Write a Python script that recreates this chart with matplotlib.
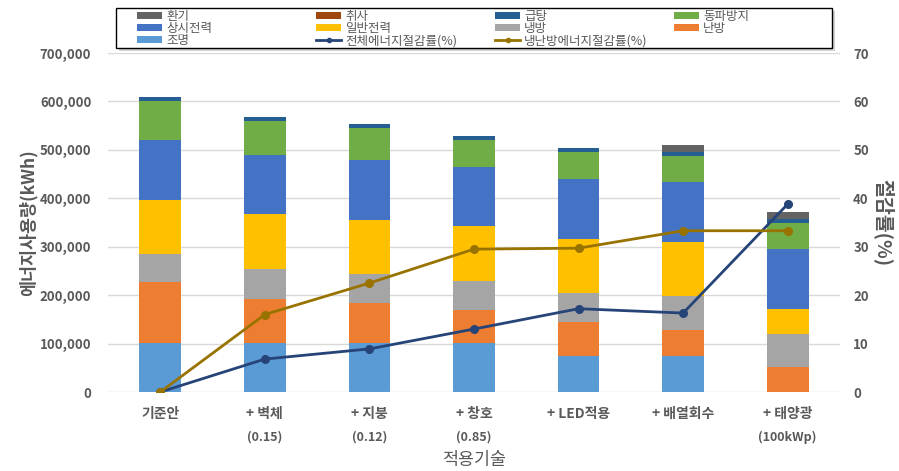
import matplotlib
matplotlib.use("Agg")
import matplotlib.pyplot as plt
from matplotlib.ticker import FuncFormatter, MultipleLocator
from matplotlib.patches import Rectangle
from matplotlib.lines import Line2D
import numpy as np

plt.rcParams['font.family'] = ['Noto Sans CJK KR', 'DejaVu Sans']

# 적용기술 (x축)
tech_main = ["기준안", "+ 벽체", "+ 지붕", "+ 창호", "+ LED적용", "+ 배열회수", "+ 태양광"]
tech_sub = ["", "(0.15)", "(0.12)", "(0.85)", "", "", "(100kWp)"]

# 용도별 에너지사용량 (kWh), 아래에서 위로 쌓는 순서
light = [101000, 101000, 101000, 101000, 74000, 74000, 0]          # 조명
heating = [125500, 91500, 83000, 68000, 71000, 54000, 51000]        # 난방
cooling = [59000, 61500, 59500, 60000, 59000, 70000, 68000]         # 냉방
general = [111500, 113500, 111500, 113500, 112000, 111500, 52000]   # 일반전력
standby = [123000, 122000, 124000, 122000, 123000, 124000, 123500]  # 상시전력
freeze = [81000, 70000, 67000, 56000, 56000, 54000, 54000]          # 동파방지
hotwater = [8000, 8000, 8000, 8000, 8000, 9000, 8000]               # 급탕
cooking = [0, 0, 0, 0, 0, 0, 0]                                     # 취사
vent = [0, 0, 0, 0, 0, 14000, 14500]                                # 환기

# 절감률 (%)
total_saving = [0, 6.8, 8.9, 13.0, 17.2, 16.3, 38.8]
hvac_saving = [0, 16.0, 22.5, 29.5, 29.7, 33.3, 33.3]

stack = [
    ("조명", light, "#5B9BD5"),
    ("난방", heating, "#ED7D31"),
    ("냉방", cooling, "#A5A5A5"),
    ("일반전력", general, "#FFC000"),
    ("상시전력", standby, "#4472C4"),
    ("동파방지", freeze, "#70AD47"),
    ("급탕", hotwater, "#255E91"),
    ("취사", cooking, "#9E480E"),
    ("환기", vent, "#636363"),
]
line_cols = {"전체에너지절감률(%)": "#264478", "냉난방에너지절감률(%)": "#997300"}

gray = "#595959"
W, H = 899, 471
fig = plt.figure(figsize=(W / 100, H / 100), dpi=100)
ax = fig.add_axes([108 / W, 79 / H, 732 / W, 339 / H])
x = np.arange(len(tech_main))

bottom = np.zeros(len(x))
colors = {}
for name, vals, col in stack:
    ax.bar(x, vals, 0.4, bottom=bottom, color=col, zorder=2)
    bottom += np.array(vals)
    colors[name] = col

ax.set_xlim(-0.5, len(x) - 0.5)
ax.set_ylim(0, 700000)
ax.yaxis.set_major_locator(MultipleLocator(100000))
ax.yaxis.set_major_formatter(FuncFormatter(lambda v, p: f"{int(v):,}"))
ax.grid(axis='y', color="#D9D9D9", lw=1, zorder=0)
ax.set_axisbelow(True)
for s in ax.spines.values():
    s.set_visible(False)
ax.tick_params(axis='both', length=0)
ax.tick_params(axis='y', pad=12, labelsize=9.5, labelcolor=gray)
for t in ax.get_yticklabels():
    t.set_fontweight('bold')

ax.set_xticks(x)
ax.set_xticklabels(tech_main, fontsize=10, color=gray, style='italic', fontweight='bold')
ax.tick_params(axis='x', pad=11)
for i, s in enumerate(tech_sub):
    ax.text(i, -0.133, s, transform=ax.get_xaxis_transform(), ha='center', va='center',
            fontsize=9, color=gray, style='italic', fontweight='bold')
ax.text(0.5, -0.201, "적용기술", transform=ax.transAxes, ha='center', va='center',
        fontsize=12.5, color=gray)
ax.set_ylabel("에너지사용량(kWh)", fontsize=12.5, fontweight='bold', color=gray, va='center')
ax.yaxis.set_label_coords(-0.109, 0.5)

ax2 = ax.twinx()
ax2.set_ylim(0, 70)
ax2.yaxis.set_major_locator(MultipleLocator(10))
for s in ax2.spines.values():
    s.set_visible(False)
ax2.tick_params(axis='y', length=0, pad=9.5, labelsize=9.5, labelcolor=gray)
for t in ax2.get_yticklabels():
    t.set_fontweight('bold')
ax2.set_ylabel("절감률(%)", fontsize=14, fontweight='bold', color=gray, rotation=-90, va='center')
ax2.yaxis.set_label_coords(1.059, 0.5)

ax2.plot(x, total_saving, color=line_cols["전체에너지절감률(%)"], lw=2, marker='o', ms=5.5, zorder=3)
ax2.plot(x, hvac_saving, color=line_cols["냉난방에너지절감률(%)"], lw=2, marker='o', ms=5.5, zorder=3)

# 범례 (엑셀처럼 4열 등간격 배치)
legend_rows = [
    ["환기", "취사", "급탕", "동파방지"],
    ["상시전력", "일반전력", "냉방", "난방"],
    ["조명", "전체에너지절감률(%)", "냉난방에너지절감률(%)"],
]
tf = fig.transFigure
fig.add_artist(Rectangle((119 / W, 1 - 51 / H), 716 / W, 40 / H, transform=tf,
                         facecolor="#BFBFBF", edgecolor='none', alpha=0.7))
fig.add_artist(Rectangle((116 / W, 1 - 48 / H), 716 / W, 40 / H, transform=tf,
                         facecolor='white', edgecolor='black', lw=1))
for r, row in enumerate(legend_rows):
    yc = 15 + 12.3 * r
    for c, name in enumerate(row):
        x0 = 137 + 179 * c
        if name in line_cols:
            fig.add_artist(Line2D([x0 / W, (x0 + 25) / W], [1 - yc / H] * 2, transform=tf,
                                  color=line_cols[name], lw=2))
            fig.add_artist(Line2D([(x0 + 12.5) / W], [1 - yc / H], transform=tf,
                                  color=line_cols[name], marker='o', ms=3))
        else:
            fig.add_artist(Rectangle((x0 / W, 1 - (yc + 3.5) / H), 25 / W, 7 / H,
                                     transform=tf, facecolor=colors[name], edgecolor='none'))
        fig.text((x0 + 29) / W, 1 - (yc + 1.2) / H, name, ha='left', va='center', fontsize=9,
                 color=gray, style='italic')

fig.savefig("out.png", dpi=100)
